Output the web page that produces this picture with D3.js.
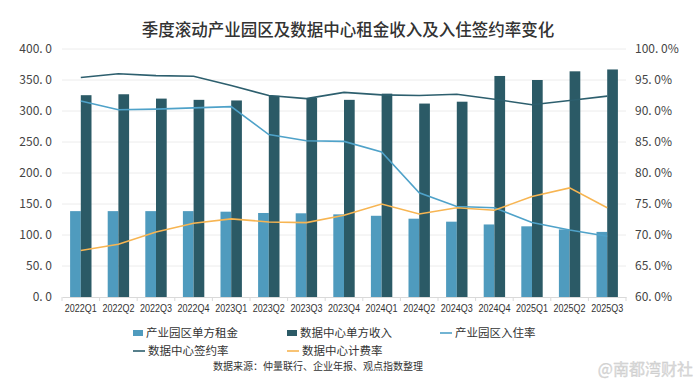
<!DOCTYPE html>
<html><head><meta charset="utf-8">
<script src="https://cdn.jsdelivr.net/npm/d3@7"></script>
<style>
body{margin:0;background:#fff;}
svg{display:block;font-family:"Noto Sans CJK SC","Noto Sans",sans-serif;}
</style></head><body>
<svg id="c" width="695" height="388"></svg>
<script>
const categories=["2022Q1","2022Q2","2022Q3","2022Q4","2023Q1","2023Q2","2023Q3","2023Q4","2024Q1","2024Q2","2024Q3","2024Q4","2025Q1","2025Q2","2025Q3"];
const parkRent=[138.5,138.5,138.5,138.5,137.6,135.5,135.0,133.3,131.0,126.3,121.5,117.0,114.0,109.0,105.0];
const dcIncome=[325.5,327.0,320.0,318.0,317.0,324.5,321.0,318.0,328.0,312.0,315.0,356.5,350.0,364.0,367.0];
const parkOcc=[91.6,90.2,90.3,90.5,90.7,86.2,85.2,85.1,83.4,76.8,74.6,74.4,72.0,70.8,69.8];
const dcSign=[95.4,96.0,95.7,95.6,94.1,92.5,92.0,93.0,92.6,92.5,92.7,91.9,91.0,91.7,92.4];
const dcBill=[67.5,68.5,70.5,71.9,72.6,72.1,72.0,73.2,75.0,73.4,74.4,74.0,76.2,77.6,74.4];
const leftTicks=[0,50,100,150,200,250,300,350,400];
const rightTicks=[60,65,70,75,80,85,90,95,100];
const title="季度滚动产业园区及数据中心租金收入及入住签约率变化";
const source="数据来源：仲量联行、企业年报、观点指数整理";
const seriesNames=["产业园区单方租金","数据中心单方收入","产业园区入住率","数据中心签约率","数据中心计费率"];
const colors={park:"#4f9bbe",dc:"#2b5a66",occ:"#4fa2c9",sign:"#2d5f6e",bill:"#f7b552"};

const svg=d3.select("#c");
const L=62,R=626,T=49,B=297;
const x=d3.scaleBand().domain(categories).range([L,R]).padding(0);
const sub=d3.scaleBand().domain([0,1]).range([-10.7,10.7]).padding(0);
const yL=d3.scaleLinear().domain([0,400]).range([B,T]);
const yR=d3.scaleLinear().domain([60,100]).range([B,T]);

// title
svg.append("text").attr("x",348).attr("y",36).attr("text-anchor","middle")
  .attr("font-size",16.5).attr("fill","#333").attr("font-weight",500).text(title);

// grid
svg.append("g").selectAll("line").data(leftTicks.slice(1)).join("line")
  .attr("x1",L).attr("x2",R).attr("y1",d=>yL(d)).attr("y2",d=>yL(d))
  .attr("stroke","#ececec").attr("stroke-width",1);

// left axis
const fmtL=d=>d.toFixed(1).replace(".",". ");
const gL=svg.append("g").attr("transform",`translate(${L},0)`)
  .call(d3.axisLeft(yL).tickValues(leftTicks).tickSize(0).tickPadding(10).tickFormat(fmtL));
gL.select(".domain").remove();
gL.selectAll("text").attr("font-size",12).attr("fill","#444").attr("font-family","'Noto Sans CJK SC',sans-serif");

// right axis
const fmtR=d=>d.toFixed(1).replace(".",". ")+"%";
const gR=svg.append("g").attr("transform",`translate(${R},0)`)
  .call(d3.axisRight(yR).tickValues(rightTicks).tickSize(0).tickPadding(9).tickFormat(fmtR));
gR.select(".domain").remove();
gR.selectAll("text").attr("font-size",12).attr("fill","#444").attr("font-family","'Noto Sans CJK SC',sans-serif");

// bars
const grp=svg.append("g");
grp.selectAll("rect.p").data(categories).join("rect").attr("class","p")
  .attr("x",(d)=>x(d)+x.bandwidth()/2+sub(0)).attr("width",sub.bandwidth())
  .attr("y",(d,i)=>yL(parkRent[i])).attr("height",(d,i)=>B-yL(parkRent[i])).attr("fill",colors.park);
grp.selectAll("rect.d").data(categories).join("rect").attr("class","d")
  .attr("x",(d)=>x(d)+x.bandwidth()/2+sub(1)).attr("width",sub.bandwidth())
  .attr("y",(d,i)=>yL(dcIncome[i])).attr("height",(d,i)=>B-yL(dcIncome[i])).attr("fill",colors.dc);

// x axis
const gX=svg.append("g").attr("transform",`translate(0,${B})`)
  .call(d3.axisBottom(x).tickSize(0).tickPadding(7));
gX.select(".domain").attr("stroke","#d9d9d9");
gX.selectAll("text").attr("font-size",11).attr("fill","#333").attr("font-family","'Liberation Sans',Arial,sans-serif")
  .attr("textLength",32).attr("lengthAdjust","spacingAndGlyphs");
gX.selectAll("line.sep").data(d3.range(categories.length+1)).join("line").attr("class","sep")
  .attr("x1",i=>L+i*x.bandwidth()).attr("x2",i=>L+i*x.bandwidth()).attr("y1",0).attr("y2",4).attr("stroke","#d9d9d9");

// lines
const line=(ys,arr)=>d3.line().x((d,i)=>x(categories[i])+x.bandwidth()/2).y(d=>ys(d))(arr);
svg.append("path").attr("d",line(yR,dcSign)).attr("fill","none").attr("stroke",colors.sign).attr("stroke-width",1.6);
svg.append("path").attr("d",line(yR,parkOcc)).attr("fill","none").attr("stroke",colors.occ).attr("stroke-width",1.6);
svg.append("path").attr("d",line(yR,dcBill)).attr("fill","none").attr("stroke",colors.bill).attr("stroke-width",1.6);

// legend
const leg=[
 {n:seriesNames[0],t:"rect",c:colors.park,x:133,y:333},
 {n:seriesNames[1],t:"rect",c:colors.dc,x:287,y:333},
 {n:seriesNames[2],t:"line",c:colors.occ,x:440,y:333},
 {n:seriesNames[3],t:"line",c:colors.sign,x:133,y:351},
 {n:seriesNames[4],t:"line",c:colors.bill,x:287,y:351}
];
const lg=svg.append("g").selectAll("g").data(leg).join("g").attr("transform",d=>`translate(${d.x},${d.y})`);
lg.filter(d=>d.t==="rect").append("rect").attr("x",0).attr("y",-3).attr("width",10).attr("height",6).attr("fill",d=>d.c);
lg.filter(d=>d.t==="line").append("line").attr("x1",0).attr("x2",12).attr("y1",0).attr("y2",0).attr("stroke",d=>d.c).attr("stroke-width",1.6);
lg.append("text").attr("x",d=>d.t==="rect"?13:15).attr("y",4).attr("font-size",11.5).attr("fill","#333").text(d=>d.n);

// source
svg.append("text").attr("x",318).attr("y",370).attr("text-anchor","middle").attr("font-size",10).attr("fill","#333").text(source);
// watermark
svg.append("text").attr("x",693).attr("y",375).attr("text-anchor","end").attr("font-size",16).attr("fill","#dadada").attr("stroke","#c8c8c8").attr("stroke-width",0.3).text("@南都湾财社");
</script></body></html>
